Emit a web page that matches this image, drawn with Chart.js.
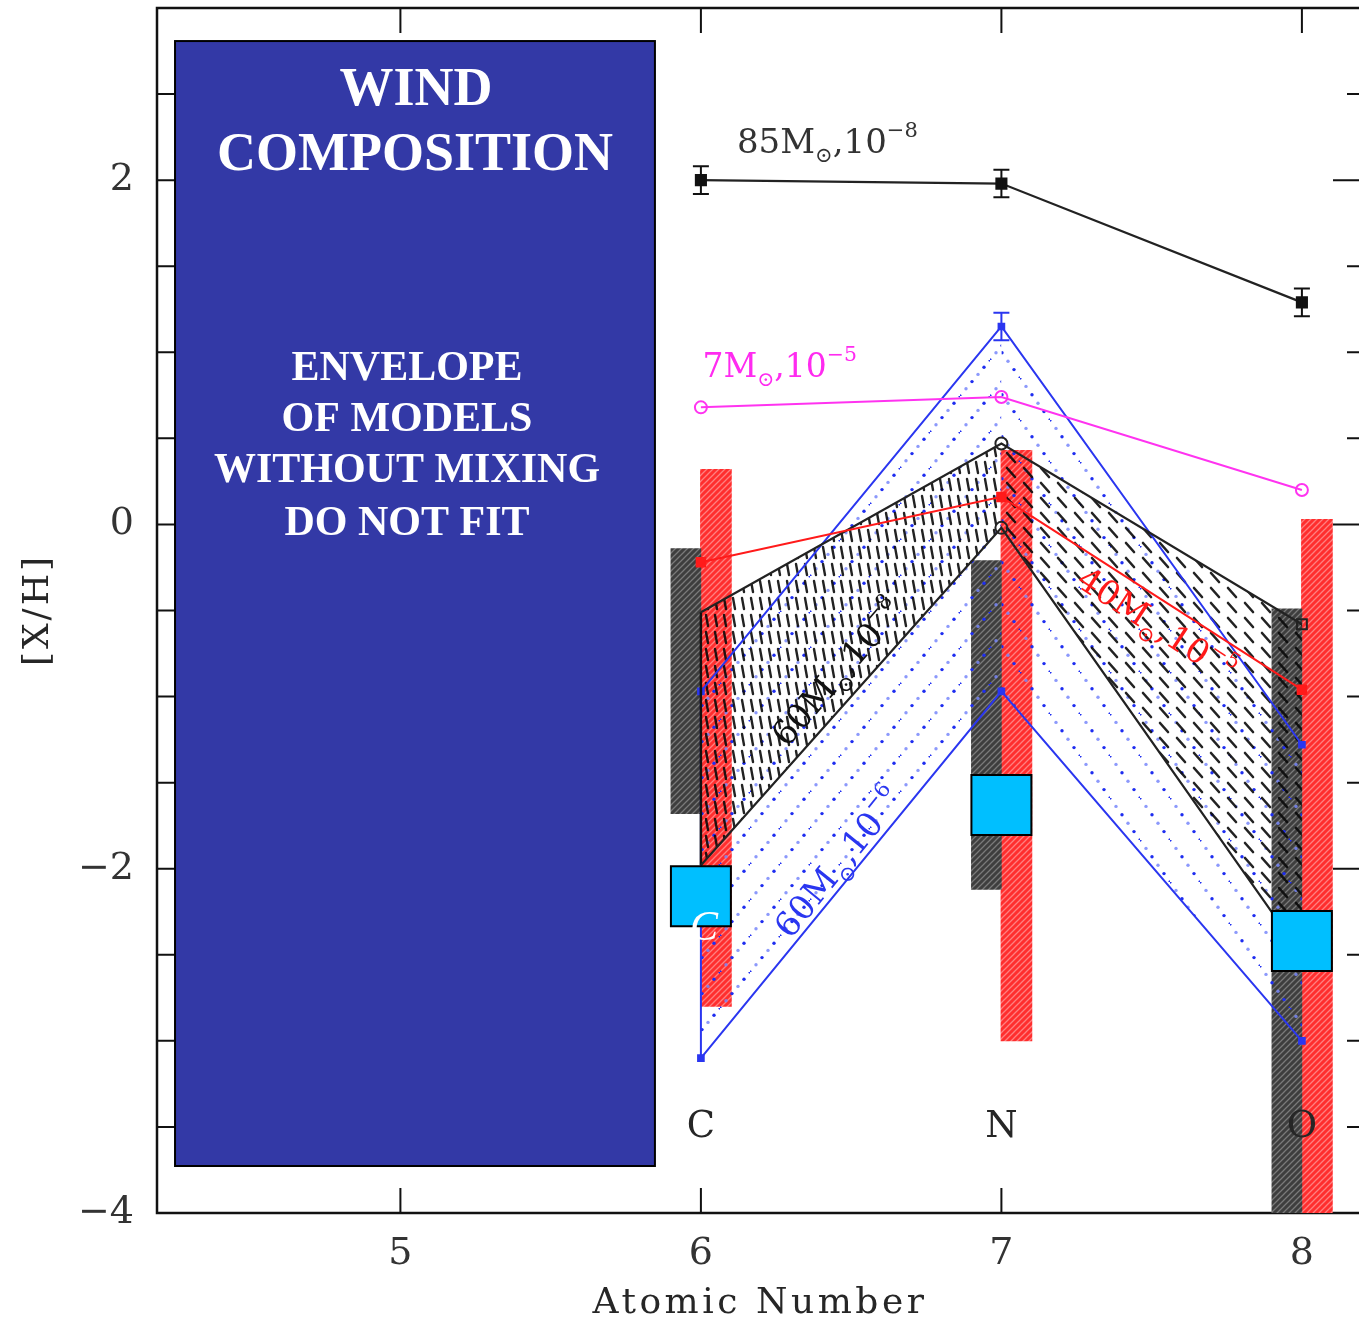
<!DOCTYPE html>
<html>
<head>
<meta charset="utf-8">
<title>Wind composition</title>
<script src="https://cdn.jsdelivr.net/npm/chart.js@4.4.0/dist/chart.umd.min.js"></script>
<style>
  html, body { margin: 0; padding: 0; background: #fff; }
  #wrap { width: 1359px; height: 1323px; }
</style>
</head>
<body>
<div id="wrap"><canvas id="windChart" width="1359" height="1323"></canvas></div>
<script>
// elements and axis ticks
var elements = ['C', 'N', 'O'];
var atomicNumbers = [6, 7, 8];
var xTicks = [5, 6, 7, 8];
var yTicks = [-4, -3.5, -3, -2.5, -2, -1.5, -1, -0.5, 0, 0.5, 1, 1.5, 2, 2.5, 3];

// single model tracks
var m85 = [2.00, 1.98, 1.29];
var m85Err = [0.08, 0.08, 0.08];
var m7 = [0.68, 0.74, 0.20];
var m40 = [-0.22, 0.16, -0.96];

// envelopes (60 Msun, 10^-6 in blue and 10^-8 in black)
var blueUpper = [-0.97, 1.15, -1.28];
var blueLower = [-3.10, -0.97, -3.00];
var blueUpperErr = [0, 0.08, 0];
var blackUpper = [-0.51, 0.47, -0.58];
var blackLower = [-1.98, -0.02, -2.50];

// observed ranges (hatched bars)
var grayLow = [-1.68, -2.12, -4.00];
var grayHigh = [-0.14, -0.21, -0.49];
var redLow = [-2.80, -3.00, -4.00];
var redHigh = [0.32, 0.43, 0.03];

// wind composition
var wind = [-2.16, -1.63, -2.42];

function pts(xs, ys) {
    return xs.map(function (x, i) { return { x: x, y: ys[i] }; });
}

function makePattern(w, h, draw) {
    var c = document.createElement('canvas');
    c.width = w; c.height = h;
    var g = c.getContext('2d');
    draw(g, w, h);
    return g.createPattern(c, 'repeat');
}

function diagHatch(base, line) {
    return makePattern(6, 6, function (g, w, h) {
        g.fillStyle = base;
        g.fillRect(0, 0, w, h);
        g.strokeStyle = line;
        g.lineWidth = 1.3;
        g.beginPath();
        g.moveTo(-1, h + 1); g.lineTo(w + 1, -1);
        g.moveTo(-2, 2); g.lineTo(2, -2);
        g.moveTo(w - 2, h + 2); g.lineTo(w + 2, h - 2);
        g.stroke();
    });
}

function dotLine(w, h, up) {
    return makePattern(w, h, function (g) {
        for (var i = 0; i < 5; i++) {
            var t = i / 5;
            var x = t * w;
            var y = up ? h - t * h : t * h;
            g.fillStyle = i % 2 ? 'rgba(120,135,250,0.85)' : 'rgba(30,45,240,1)';
            g.beginPath(); g.arc(x, y, 1.7, 0, Math.PI * 2); g.fill();
            if (i === 0) {
                g.beginPath(); g.arc(w, up ? 0 : h, 1.7, 0, Math.PI * 2); g.fill();
            }
        }
    });
}

function dashes(w, h, x1, y1, x2, y2, lw) {
    return makePattern(w, h, function (g) {
        g.strokeStyle = 'rgba(10,10,10,0.9)';
        g.lineWidth = lw;
        g.lineCap = 'round';
        g.beginPath(); g.moveTo(x1, y1); g.lineTo(x2, y2); g.stroke();
    });
}

var grayHatch = diagHatch('#3e3e3e', '#7a7a7a');
var redHatch = diagHatch('#ff2e2e', '#ff8080');
var blueDotsL = dotLine(30, 36, true);
var blueDotsR = dotLine(30, 42, false);
var blackDashL = dashes(9, 17, 4, 3, 6, 14, 2.4);
var blackDashR = dashes(17, 15, 4, 3, 12, 12, 2.6);

var clear = 'rgba(0,0,0,0)';
var left2 = atomicNumbers.slice(0, 2);
var right2 = atomicNumbers.slice(1, 3);

function fillSet(xs, ys, pattern, order, fill) {
    return {
        type: 'line', data: pts(xs, ys), order: order,
        borderColor: clear, borderWidth: 0, pointRadius: 0,
        backgroundColor: pattern, fill: fill ? '+1' : false
    };
}

var serif = '"DejaVu Serif", serif';
var textGray = '#262626';

function richText(ctx, parts, x, y, size, color, angle, centered) {
    ctx.save();
    ctx.translate(x, y);
    ctx.rotate(angle * Math.PI / 180);
    ctx.fillStyle = color;
    ctx.textBaseline = 'alphabetic';
    ctx.textAlign = 'left';
    var total = 0, widths = [];
    parts.forEach(function (p) {
        var s = p[1] === 0 ? size : size * 0.62;
        ctx.font = s + 'px ' + serif;
        var w = ctx.measureText(p[0]).width;
        widths.push(w); total += w;
    });
    var cx = centered ? -total / 2 : 0;
    var cy = centered ? size * 0.36 : 0;
    parts.forEach(function (p, i) {
        var s = p[1] === 0 ? size : size * 0.62;
        var dy = p[1] < 0 ? size * 0.28 : (p[1] > 0 ? -size * 0.48 : 0);
        ctx.font = s + 'px ' + serif;
        ctx.fillText(p[0], cx, cy + dy);
        cx += widths[i];
    });
    ctx.restore();
}

var framePlugin = {
    id: 'frame',
    beforeDatasetsDraw: function (chart) {
        var ctx = chart.ctx, a = chart.chartArea;
        var xs = chart.scales.x, ys = chart.scales.y;
        ctx.save();
        ctx.strokeStyle = '#111';
        ctx.lineWidth = 2.5;
        ctx.beginPath();
        ctx.moveTo(a.right + 2, a.top); ctx.lineTo(a.left, a.top);
        ctx.lineTo(a.left, a.bottom); ctx.lineTo(a.right + 2, a.bottom);
        ctx.stroke();
        ctx.lineWidth = 2;
        ctx.beginPath();
        xs.ticks.forEach(function (t) {
            var px = xs.getPixelForValue(t.value);
            ctx.moveTo(px, a.bottom); ctx.lineTo(px, a.bottom - 25);
            ctx.moveTo(px, a.top); ctx.lineTo(px, a.top + 25);
        });
        ys.ticks.forEach(function (t) {
            var py = ys.getPixelForValue(t.value);
            var major = t.value % 2 === 0;
            ctx.moveTo(a.left, py); ctx.lineTo(a.left + 22, py);
            ctx.moveTo(a.right, py); ctx.lineTo(a.right - (major ? 26 : 12), py);
        });
        ctx.stroke();
        ctx.restore();
    },
    afterDatasetsDraw: function (chart) {
        var ctx = chart.ctx;
        var xs = chart.scales.x, ys = chart.scales.y;
        var X = function (v) { return xs.getPixelForValue(v); };
        var Y = function (v) { return ys.getPixelForValue(v); };
        ctx.save();

        // error bars
        ctx.lineWidth = 2;
        function errBars(vals, errs, color) {
            ctx.strokeStyle = color;
            ctx.beginPath();
            vals.forEach(function (v, i) {
                if (!errs[i]) return;
                var px = X(atomicNumbers[i]);
                var t = Y(v + errs[i]), b = Y(v - errs[i]);
                ctx.moveTo(px, t); ctx.lineTo(px, b);
                ctx.moveTo(px - 8, t); ctx.lineTo(px + 8, t);
                ctx.moveTo(px - 8, b); ctx.lineTo(px + 8, b);
            });
            ctx.stroke();
        }
        errBars(m85, m85Err, '#111');
        errBars(blueUpper, blueUpperErr, '#2a36f0');

        // element names
        ctx.fillStyle = textGray;
        ctx.font = '37px ' + serif;
        ctx.textAlign = 'center';
        ctx.textBaseline = 'middle';
        elements.forEach(function (e, i) {
            ctx.fillText(e, X(atomicNumbers[i]), Y(-3.5));
        });

        // model labels
        var sun = '\u2299';
        richText(ctx, [['85M', 0], [sun, -1], [',10', 0], ['\u22128', 1]], X(6.12), Y(2.158), 34, '#333', 0, false);
        richText(ctx, [['7M', 0], [sun, -1], [',10', 0], ['\u22125', 1]], X(6.005), Y(0.856), 33, '#ff2bf0', 0, false);
        richText(ctx, [['60M', 0], [sun, -1], [',10', 0], ['\u22128', 1]], 837, 672, 34, '#111', -49, true);
        richText(ctx, [['60M', 0], [sun, -1], [',10', 0], ['\u22126', 1]], 838, 862, 34, '#2a36f0', -51, true);
        richText(ctx, [['40M', 0], [sun, -1], [',10', 0], ['\u22125', 1]], 1157, 624, 34, '#ff1a1a', 33, true);

        // letter on the carbon square
        ctx.fillStyle = '#fff';
        ctx.font = 'italic 42px "Liberation Serif", serif';
        ctx.textAlign = 'center';
        ctx.textBaseline = 'alphabetic';
        ctx.fillText('C', X(6) + 3, Y(wind[0]) + 44);

        // text box
        var bx = X(4.25), bx2 = X(5.847), by = Y(2.808), by2 = Y(-3.727);
        ctx.fillStyle = '#3339a6';
        ctx.fillRect(bx, by, bx2 - bx, by2 - by);
        ctx.strokeStyle = '#000';
        ctx.lineWidth = 2;
        ctx.strokeRect(bx, by, bx2 - bx, by2 - by);
        var cx = (bx + bx2) / 2;
        ctx.fillStyle = '#fff';
        ctx.font = 'bold 54px "Liberation Serif", serif';
        ctx.fillText('WIND', cx + 1, by + 64);
        ctx.fillText('COMPOSITION', cx, by + 129);
        ctx.font = 'bold 42px "Liberation Serif", serif';
        ['ENVELOPE', 'OF MODELS', 'WITHOUT MIXING', 'DO NOT FIT'].forEach(function (s, i) {
            ctx.fillText(s, cx - 8, by + 339 + [0, 51, 102, 155][i]);
        });

        // axis titles
        ctx.fillStyle = textGray;
        ctx.font = '36px ' + serif;
        ctx.letterSpacing = '0px';
        var w = ctx.measureText('Atomic Number').width;
        ctx.letterSpacing = ((335 - w) / 13).toFixed(2) + 'px';
        ctx.textAlign = 'center';
        ctx.textBaseline = 'alphabetic';
        ctx.fillText('Atomic Number', 760, 1313);
        ctx.save();
        ctx.translate(48, 610);
        ctx.rotate(-Math.PI / 2);
        ctx.letterSpacing = '0px';
        var w2 = ctx.measureText('[X/H]').width;
        ctx.letterSpacing = ((112 - w2) / 5).toFixed(2) + 'px';
        ctx.fillText('[X/H]', 0, 0);
        ctx.restore();
        ctx.restore();
    }
};

var datasets = [
    { type: 'bar', data: pts(atomicNumbers.map(function (z) { return z - 0.05; }), grayLow.map(function (v, i) { return [v, grayHigh[i]]; })),
      backgroundColor: grayHatch, borderWidth: 0, barThickness: 30, grouped: false, order: 10 },
    { type: 'bar', data: pts(atomicNumbers.map(function (z) { return z + 0.05; }), redLow.map(function (v, i) { return [v, redHigh[i]]; })),
      backgroundColor: redHatch, borderWidth: 0, barThickness: 31, grouped: false, order: 10 },

    fillSet(left2, blueUpper.slice(0, 2), blueDotsL, 9, true),
    fillSet(left2, blueLower.slice(0, 2), clear, 9, false),
    fillSet(right2, blueUpper.slice(1, 3), blueDotsR, 9, true),
    fillSet(right2, blueLower.slice(1, 3), clear, 9, false),
    fillSet(left2, blackUpper.slice(0, 2), blackDashL, 8, true),
    fillSet(left2, blackLower.slice(0, 2), clear, 8, false),
    fillSet(right2, blackUpper.slice(1, 3), blackDashR, 8, true),
    fillSet(right2, blackLower.slice(1, 3), clear, 8, false),

    { type: 'line', data: pts(atomicNumbers, blueUpper), borderColor: '#2a36f0', borderWidth: 2,
      pointStyle: 'rect', pointRadius: 4, backgroundColor: '#2a36f0', pointBorderColor: '#2a36f0', fill: false, order: 7 },
    { type: 'line', data: pts(atomicNumbers, blueLower), borderColor: '#2a36f0', borderWidth: 2,
      pointStyle: 'rect', pointRadius: 4, backgroundColor: '#2a36f0', pointBorderColor: '#2a36f0', fill: false, order: 7 },
    { type: 'line', data: [{ x: atomicNumbers[0], y: blueUpper[0] }, { x: atomicNumbers[0], y: blueLower[0] }],
      borderColor: '#2a36f0', borderWidth: 2, pointRadius: 0, fill: false, order: 7 },

    { type: 'line', data: pts(atomicNumbers, blackUpper), borderColor: '#222', borderWidth: 2.2,
      pointStyle: ['circle', 'circle', 'rect'], pointRadius: [0, 6, 7], backgroundColor: clear, pointBorderColor: '#222', pointBorderWidth: 2, fill: false, order: 6 },
    { type: 'line', data: pts(atomicNumbers, blackLower), borderColor: '#222', borderWidth: 2.2,
      pointStyle: 'circle', pointRadius: [0, 6, 0], backgroundColor: clear, pointBorderColor: '#222', pointBorderWidth: 2, fill: false, order: 6 },
    { type: 'line', data: [{ x: atomicNumbers[0], y: blackUpper[0] }, { x: atomicNumbers[0], y: blackLower[0] }],
      borderColor: '#111', borderWidth: 2.5, pointRadius: 0, fill: false, order: 6 },

    { type: 'line', data: pts(atomicNumbers, m40), borderColor: '#ff1a1a', borderWidth: 2,
      pointStyle: 'rect', pointRadius: 6, backgroundColor: '#ff1a1a', pointBorderColor: '#ff1a1a', fill: false, order: 4 },
    { type: 'line', data: pts(atomicNumbers, m7), borderColor: '#ff33f0', borderWidth: 2,
      pointStyle: 'circle', pointRadius: 6, backgroundColor: 'rgba(255,255,255,0)', pointBorderColor: '#ff33f0', pointBorderWidth: 2, fill: false, order: 4 },
    { type: 'line', data: pts(atomicNumbers, m85), borderColor: '#222', borderWidth: 2.2,
      pointStyle: 'rect', pointRadius: 7, backgroundColor: '#111', pointBorderColor: '#111', fill: false, order: 3 },

    { type: 'line', data: pts(atomicNumbers, wind), showLine: false,
      pointStyle: 'rect', pointRadius: 42.4, backgroundColor: '#00bfff', pointBorderColor: '#000', pointBorderWidth: 2, order: 1 }
];

var chart = new Chart(document.getElementById('windChart').getContext('2d'), {
    type: 'line',
    data: { datasets: datasets },
    options: {
        responsive: false,
        animation: false,
        events: [],
        layout: { autoPadding: false, padding: { top: 8, right: 0, left: 0, bottom: 0 } },
        plugins: { legend: { display: false }, tooltip: { enabled: false } },
        scales: {
            x: {
                type: 'linear', min: 4.19, max: 8.19, offset: false,
                afterBuildTicks: function (s) { s.ticks = xTicks.map(function (v) { return { value: v }; }); },
                afterFit: function (s) { s.height = 110; s.paddingLeft = 0; s.paddingRight = 0; },
                grid: { display: false }, border: { display: false },
                ticks: { autoSkip: false, maxRotation: 0, padding: 10, color: '#333', font: { family: 'DejaVu Serif', size: 38 } }
            },
            y: {
                type: 'linear', min: -4, max: 3,
                afterBuildTicks: function (s) { s.ticks = yTicks.map(function (v) { return { value: v }; }); },
                afterFit: function (s) { s.width = 157; s.paddingTop = 0; s.paddingBottom = 0; },
                grid: { display: false }, border: { display: false },
                ticks: {
                    autoSkip: false, padding: 15, color: '#333', font: { family: 'DejaVu Serif', size: 38 },
                    callback: function (v) { return v % 2 === 0 ? (v < 0 ? '\u2212' + Math.abs(v) : String(v)) : ''; }
                }
            }
        }
    },
    plugins: [framePlugin]
});
</script>
</body>
</html>
